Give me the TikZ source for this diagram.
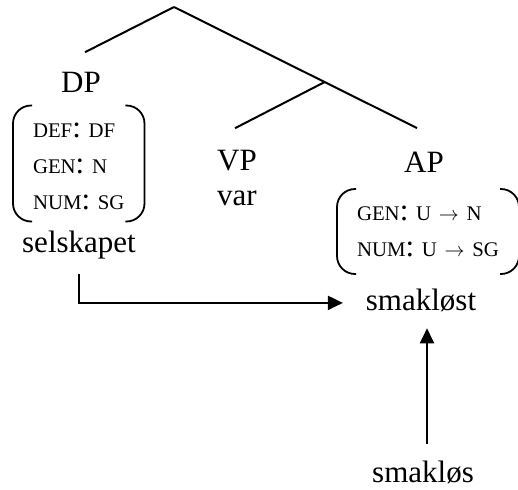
\documentclass[tikz,border=0pt]{standalone}
\usepackage{fontspec}
\setmainfont{Liberation Serif}
\usetikzlibrary{arrows.meta}
\usetikzlibrary{positioning}
\usetikzlibrary{calc}

\newcommand\fv[1]{{\fontsize{10.4}{12}\selectfont #1}}
\newcommand\becomes{\fv{$\rightarrow$}}

\begin{document}
\begin{tikzpicture}[x=0.5pt,y=-0.5pt,line width=1pt,
  lbl/.style={font=\fontsize{15.5}{18}\selectfont,inner sep=2pt,anchor=base},
  feat/.style={font=\fontsize{15.5}{18}\selectfont,align=left,inner xsep=9.5pt,inner ysep=0pt,anchor=west},
  brak/.style={line width=0.9pt,rounded corners=9pt},
  arr/.style={-{Triangle[length=7.5pt,width=7pt]}}]

  \useasboundingbox (0,0) rectangle (518,489);

  \node[lbl] (dp) at (81,92) {DP};
  \node[feat] (dpf) at (13,166) {\fv{DEF}: \fv{DF}\\\fv{GEN}: \fv{N}\\\fv{NUM}: \fv{SG}};
  \node[lbl] (sel) at (79,252) {selskapet};

  \node[lbl] (vp) at (237,170) {VP};
  \node[lbl] (var) at (237,205) {var};

  \node[lbl] (ap) at (424,172) {AP};
  \node[feat] (apf) at (337,231.5) {\fv{GEN}: \fv{U} \becomes{} \fv{N}\\\fv{NUM}: \fv{U} \becomes{} \fv{SG}};
  \node[lbl] (smt) at (421,310) {smakløst};
  \node[lbl] (sms) at (423,482) {smakløs};

  % tree
  \coordinate (root) at (174,7);
  \coordinate (apend) at ([shift={(-7,-18.5)}]ap.north);
  \coordinate (vpx) at ($(root)!0.62!(apend)$);
  \draw (root) -- ([shift={(4,-14.5)}]dp.north);
  \draw (root) -- (apend);
  \draw (vpx) -- ([shift={(-2,-16.5)}]vp.north);

  % feature brackets
  \foreach \m/\lo in {dpf/5.5pt,apf/8pt}{
    \draw[brak] ([shift={(9.5pt,8pt)}]\m.north west) -- ([yshift=8pt]\m.north west)
      -- ([yshift=-\lo]\m.south west) -- ([shift={(9.5pt,-\lo)}]\m.south west);
    \draw[brak] ([shift={(-9.5pt,8pt)}]\m.north east) -- ([yshift=8pt]\m.north east)
      -- ([yshift=-\lo]\m.south east) -- ([shift={(-9.5pt,-\lo)}]\m.south east);
  }

  % arrows
  \draw[arr,shorten >=9pt] ([yshift=-5pt]sel.south) |- ([yshift=-1.5pt]smt.west);
  \coordinate (up) at ([xshift=2pt]sms.north);
  \draw[arr,shorten <=6pt,shorten >=6pt] (up) -- (up |- smt.south);
\end{tikzpicture}
\end{document}
